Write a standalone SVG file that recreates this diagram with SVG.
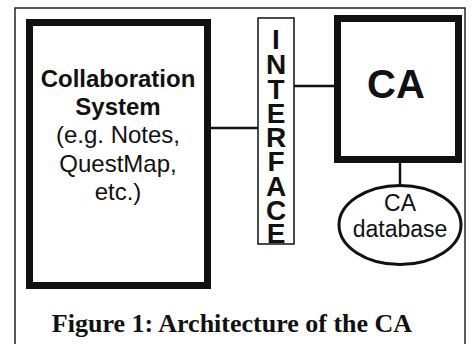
<svg xmlns="http://www.w3.org/2000/svg" width="472" height="344" viewBox="0 0 472 344">
<style>
.thick{fill:#fff;stroke:#111;stroke-width:7}
.thin{fill:#fff;stroke:#111;stroke-width:1.5}
.line{stroke:#111;stroke-width:2.5;fill:none}
.sans{font-family:"Liberation Sans",Arial,sans-serif;fill:#111;text-anchor:middle}
.b{font-weight:bold}
.iface{font-family:"Liberation Sans",Arial,sans-serif;font-weight:bold;font-size:28px;fill:#111;text-anchor:middle}
.cap{font-family:"Liberation Serif","Times New Roman",serif;font-weight:bold;font-size:26px;fill:#111;text-anchor:middle}
</style>
<rect x="0" y="0" width="472" height="344" fill="#fff"/>
<rect id="frame" x="15" y="8" width="450" height="345" fill="none" stroke="#222" stroke-width="1.5"/>
<g id="connectors">
<line class="line" x1="211" y1="128" x2="258" y2="128"/>
<line class="line" x1="294" y1="86" x2="334" y2="86"/>
<line class="line" x1="400" y1="163" x2="400" y2="186"/>
</g>
<g id="collab">
<rect class="thick" x="29.5" y="22.5" width="178" height="263"/>
<text class="sans b" x="118" y="87" font-size="24">Collaboration</text>
<text class="sans b" x="118" y="115" font-size="24">System</text>
<text class="sans" x="118" y="143" font-size="24">(e.g. Notes,</text>
<text class="sans" x="118" y="172" font-size="24">QuestMap,</text>
<text class="sans" x="118" y="200" font-size="24">etc.)</text>
</g>
<g id="interface">
<rect class="thin" x="258" y="18" width="36" height="226"/>
<text class="iface" x="276" y="49">I</text>
<text class="iface" x="276" y="74">N</text>
<text class="iface" x="276" y="99">T</text>
<text class="iface" x="276" y="123">E</text>
<text class="iface" x="276" y="147">R</text>
<text class="iface" x="276" y="171">F</text>
<text class="iface" x="276" y="196">A</text>
<text class="iface" x="276" y="220">C</text>
<text class="iface" x="276" y="243">E</text>
</g>
<g id="ca">
<rect class="thick" x="337.5" y="18.5" width="121" height="141"/>
<text class="sans b" x="396" y="98" font-size="40">CA</text>
</g>
<g id="database">
<ellipse cx="400" cy="225" rx="61" ry="39.5" fill="#fff" stroke="#111" stroke-width="3"/>
<text class="sans" x="400" y="211" font-size="23">CA</text>
<text class="sans" x="400" y="237" font-size="23">database</text>
</g>
<text class="cap" x="232" y="332">Figure 1: Architecture of the CA</text>
</svg>
